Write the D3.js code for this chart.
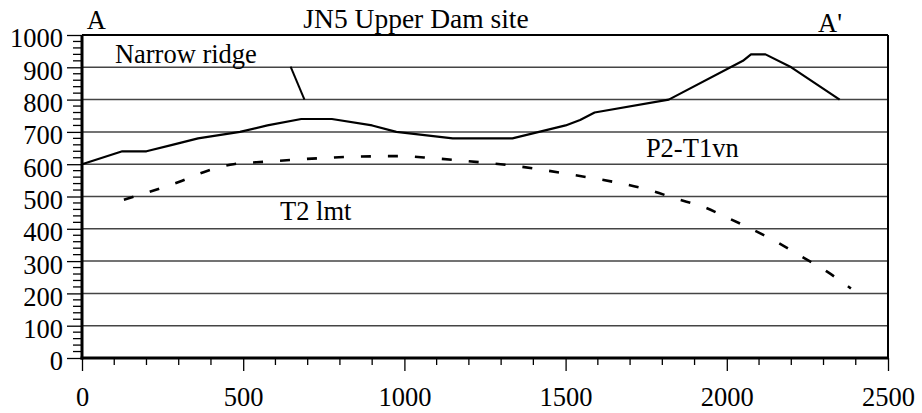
<!DOCTYPE html>
<html>
<head>
<meta charset="utf-8">
<script src="https://cdn.jsdelivr.net/npm/d3@7/dist/d3.min.js"></script>
<style>
  html, body { margin: 0; padding: 0; background: #fff; }
  svg text { font-family: "Liberation Serif", "Times New Roman", serif; fill: #000; }
</style>
</head>
<body>
<svg id="chart" width="922" height="413"></svg>
<script>
// ---- Data ----
const title = "JN5 Upper Dam site";
const xTicks = [0, 500, 1000, 1500, 2000, 2500];
const yTicks = [0, 100, 200, 300, 400, 500, 600, 700, 800, 900, 1000];
const groundX = [0, 125, 200, 280, 360, 490, 575, 680, 775, 900, 975, 1150, 1335, 1500, 1545, 1590, 1820, 2050, 2075, 2120, 2200, 2350];
const groundY = [600, 640, 640, 660, 680, 700, 720, 740, 740, 720, 700, 680, 680, 720, 737, 760, 800, 920, 940, 940, 900, 800];
const contactX = [130, 300, 390, 470, 575, 675, 745, 840, 985, 1085, 1170, 1255, 1340, 1425, 1505, 1595, 1675, 1760, 1840, 1935, 1990, 2075, 2150, 2230, 2310, 2385];
const contactY = [490, 545, 580, 600, 608, 615, 619, 623, 625, 619, 612, 604, 595, 583, 570, 555, 540, 520, 494, 465, 440, 400, 362, 315, 268, 215];
const labels = [
  { text: "A", x: 15, y: 1020, anchor: "start" },
  { text: "A'", x: 2320, y: 1010, anchor: "middle" },
  { text: "Narrow ridge", x: 102, y: 913, anchor: "start" },
  { text: "P2-T1vn", x: 1749, y: 622, anchor: "start" },
  { text: "T2 lmt", x: 614, y: 427, anchor: "start" }
];
const pointer = [[647, 902], [690, 800]];

// ---- Chart ----
const svg = d3.select("#chart");
const x = d3.scaleLinear().domain([0, 2500]).range([82, 888]);
const y = d3.scaleLinear().domain([0, 1000]).range([358, 35]);

// gridlines
svg.append("g").selectAll("line").data(yTicks.filter(d => d > 0 && d < 1000)).join("line")
  .attr("x1", x(0)).attr("x2", x(2500))
  .attr("y1", d => y(d)).attr("y2", d => y(d))
  .attr("stroke", "#444").attr("stroke-width", 1.5);

// frame top & right
svg.append("line").attr("x1", x(0)).attr("x2", x(2500)).attr("y1", y(1000)).attr("y2", y(1000))
  .attr("stroke", "#000").attr("stroke-width", 2);
svg.append("line").attr("x1", x(2500)).attr("x2", x(2500)).attr("y1", y(1000)).attr("y2", y(0))
  .attr("stroke", "#000").attr("stroke-width", 2);

// y axis minor ticks
const yMinor = d3.range(0, 1001, 20).filter(d => d % 100 !== 0);
svg.append("g").selectAll("line").data(yMinor).join("line")
  .attr("x1", x(0) - 9).attr("x2", x(0)).attr("y1", d => y(d)).attr("y2", d => y(d))
  .attr("stroke", "#000").attr("stroke-width", 1.3);
// x axis minor ticks
const xMinor = d3.range(0, 2501, 100).filter(d => d % 500 !== 0);
svg.append("g").selectAll("line").data(xMinor).join("line")
  .attr("x1", d => x(d)).attr("x2", d => x(d)).attr("y1", y(0)).attr("y2", y(0) + 7)
  .attr("stroke", "#000").attr("stroke-width", 1.3);

// y axis
const yAxis = svg.append("g").attr("transform", `translate(${x(0)},0)`)
  .call(d3.axisLeft(y).tickValues(yTicks).tickSize(15).tickPadding(4).tickFormat(d3.format("d")));
yAxis.select(".domain").attr("stroke-width", 3).attr("d", `M0,${y(1000)}V${y(0) + 1.5}`);
yAxis.selectAll(".tick line").attr("stroke-width", 1.3);
yAxis.selectAll(".tick text").attr("font-size", 26.5).attr("dy", "0.45em")
  .style("font-family", "Liberation Serif").attr("x", -19);

// x axis
const xAxis = svg.append("g").attr("transform", `translate(0,${y(0)})`)
  .call(d3.axisBottom(x).tickValues(xTicks).tickSize(13).tickPadding(16).tickFormat(d3.format("d")));
xAxis.select(".domain").attr("stroke-width", 3).attr("d", `M${x(0) - 1.5},0H${x(2500)}`);
xAxis.selectAll(".tick line").attr("stroke-width", 1.3);
xAxis.selectAll(".tick text").attr("font-size", 26.5).style("font-family", "Liberation Serif");

// lines
const line = d3.line().x(d => x(d[0])).y(d => y(d[1]));
svg.append("path").datum(groundX.map((d, i) => [d, groundY[i]]))
  .attr("d", line).attr("fill", "none").attr("stroke", "#000").attr("stroke-width", 2.2)
  .attr("stroke-linejoin", "round");
svg.append("path").datum(contactX.map((d, i) => [d, contactY[i]]))
  .attr("d", line.curve(d3.curveMonotoneX)).attr("fill", "none").attr("stroke", "#000")
  .attr("stroke-width", 2.6).attr("stroke-dasharray", "10,17");

// pointer
svg.append("line").attr("x1", x(pointer[0][0])).attr("y1", y(pointer[0][1]))
  .attr("x2", x(pointer[1][0])).attr("y2", y(pointer[1][1]))
  .attr("stroke", "#000").attr("stroke-width", 2);

// title
svg.append("text").attr("x", 416).attr("y", 28).attr("text-anchor", "middle")
  .attr("font-size", 27.5).text(title);

// labels
svg.append("g").selectAll("text").data(labels).join("text")
  .attr("x", d => x(d.x)).attr("y", d => y(d.y)).attr("text-anchor", d => d.anchor)
  .attr("font-size", 26.5).text(d => d.text);
</script>
</body>
</html>
